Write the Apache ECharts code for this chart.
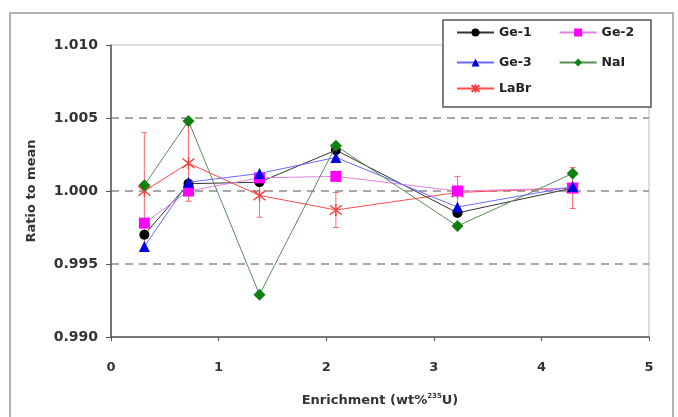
<!DOCTYPE html>
<html><head><meta charset="utf-8">
<script src="https://cdn.jsdelivr.net/npm/echarts@6/dist/echarts.min.js"></script>
<style>html,body{margin:0;padding:0;background:#fff}#c{width:678px;height:417px}</style>
</head><body><div id="c"></div>
<script>
const enrichment = [0.31, 0.72, 1.38, 2.09, 3.22, 4.29];
const ge1 = [0.9970, 1.0005, 1.0006, 1.0028, 0.9985, 1.0002];
const ge2 = [0.9978, 1.0000, 1.0009, 1.0010, 1.0000, 1.0002];
const ge3 = [0.9962, 1.0006, 1.0012, 1.0023, 0.9989, 1.0003];
const nai = [1.0004, 1.0048, 0.9929, 1.0031, 0.9976, 1.0012];
const labr = [1.0000, 1.0019, 0.9997, 0.9987, 0.9999, 1.0002];
const labrErr = [0.0040, 0.0026, 0.0015, 0.0012, 0.0011, 0.0014];
const yTicks = ['0.990','0.995','1.000','1.005','1.010'];

const FONT = 'DejaVu Sans';
const pair = arr => arr.map((v, i) => [enrichment[i], v]);

const chart = echarts.init(document.getElementById('c'));
const base = (name, data, symbol, size, color, lineColor) => ({
  name, type: 'line', data: pair(data), symbol, symbolSize: size,
  itemStyle: { color }, lineStyle: { color: lineColor, width: 1 },
  emphasis: { disabled: true }, animation: false
});
const legendCommon = {
  left: 456, padding: 0, itemWidth: 37, itemHeight: 10, itemGap: 27,
  textStyle: { fontFamily: FONT, fontWeight: 'bold', fontSize: 12.5, color: '#222', width: 40 },
  selectedMode: false
};
chart.setOption({
  animation: false,
  grid: { left: 111, right: 29, top: 45, bottom: 80, show: true, borderColor: '#b8b8b8', borderWidth: 1 },
  xAxis: {
    type: 'value', min: 0, max: 5, interval: 1,
    name: '{a|Enrichment (wt%}{s|235}{a|U)}', nameLocation: 'middle', nameGap: 56,
    nameTextStyle: { rich: { a: { fontFamily: FONT, fontWeight: 'bold', fontSize: 13, color: '#333' }, s: { fontFamily: FONT, fontWeight: 'bold', fontSize: 7, color: '#333', verticalAlign: 'top', padding: [0,0,8,0] } } },
    axisLine: { lineStyle: { color: '#555', width: 1.5 } },
    axisTick: { show: true, length: 4, lineStyle: { color: '#555' } },
    axisLabel: { margin: 24, fontFamily: FONT, fontWeight: 'bold', fontSize: 13, color: '#333' },
    splitLine: { show: false }
  },
  yAxis: {
    type: 'value', min: 0.990, max: 1.010, interval: 0.005,
    name: 'Ratio to mean', nameLocation: 'middle', nameGap: 73,
    nameTextStyle: { fontFamily: FONT, fontWeight: 'bold', fontSize: 13, color: '#333' },
    axisLine: { show: true, lineStyle: { color: '#555', width: 1.5 } },
    axisTick: { show: true, length: 5, lineStyle: { color: '#555' } },
    axisLabel: { margin: 13, fontFamily: FONT, fontWeight: 'bold', fontSize: 14, color: '#333',
      formatter: (v) => yTicks.find(t => Math.abs(parseFloat(t) - v) < 1e-6) || v.toFixed(3) },
    splitLine: { show: true, lineStyle: { color: ['rgba(0,0,0,0)', '#8a8a8a', '#8a8a8a', '#8a8a8a', 'rgba(0,0,0,0)'], type: [8, 6], width: 1.5 } }
  },
  legend: [
    Object.assign({ top: 26, data: ['Ge-1', 'Ge-2'] }, legendCommon),
    Object.assign({ top: 56, data: ['Ge-3', 'NaI'] }, legendCommon),
    Object.assign({ top: 82, data: ['LaBr'] }, legendCommon)
  ],
  graphic: [
    { type: 'rect', z: -10, shape: { x: 10, y: 13, width: 663, height: 420 }, style: { fill: 'none', stroke: '#9a9a9a', lineWidth: 1.5 } },
    { type: 'rect', z: 0, shape: { x: 443, y: 20, width: 208, height: 87 }, style: { fill: '#fff', stroke: '#555', lineWidth: 1.5 } }
  ],
  series: [
    {
      type: 'custom', name: 'err', silent: true, z: 1,
      data: labr.map((v, i) => [enrichment[i], v - labrErr[i], v + labrErr[i]]),
      encode: { x: 0, y: [1, 2] },
      renderItem: (params, api) => {
        const lo = api.coord([api.value(0), api.value(1)]);
        const hi = api.coord([api.value(0), api.value(2)]);
        const w = 3, st = { stroke: '#ff6a6a', lineWidth: 1 };
        return { type: 'group', children: [
          { type: 'line', shape: { x1: lo[0], y1: lo[1], x2: hi[0], y2: hi[1] }, style: st },
          { type: 'line', shape: { x1: lo[0]-w, y1: lo[1], x2: lo[0]+w, y2: lo[1] }, style: st },
          { type: 'line', shape: { x1: hi[0]-w, y1: hi[1], x2: hi[0]+w, y2: hi[1] }, style: st }
        ]};
      }
    },
    Object.assign(base('LaBr', labr, 'path://M1,1L9,9M9,1L1,9M5,0L5,10', 12, 'rgba(0,0,0,0)', '#ff4a4a'),
      { itemStyle: { color: 'rgba(0,0,0,0)', borderColor: '#ff3a3a', borderWidth: 1.4 }, z: 2 }),
    Object.assign(base('Ge-1', ge1, 'circle', 10, '#000', '#333'), { z: 3 }),
    Object.assign(base('Ge-2', ge2, 'rect', 11, '#ff00ff', '#e080e0'), { z: 4 }),
    Object.assign(base('Ge-3', ge3, 'triangle', 11, '#0000e0', '#6a6aff'), { z: 5 }),
    Object.assign(base('NaI', nai, 'diamond', 12, '#118011', '#5a8a5a'), { z: 6 })
  ]
});
</script></body></html>
